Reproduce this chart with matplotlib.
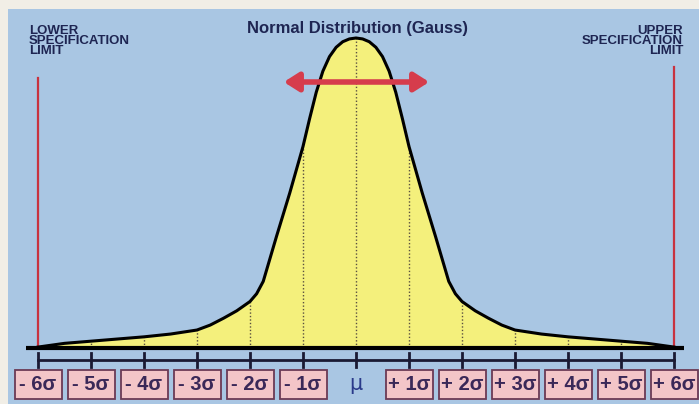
import matplotlib.pyplot as plt
from matplotlib.patches import Rectangle, FancyArrowPatch

# curve (x in sigma units, height relative to peak)
curve_x = [-6, -5.5, -5, -4.5, -4, -3.5, -3, -2.75, -2.5, -2.25, -2, -1.875, -1.75, -1.5, -1.25,
           -1, -0.875, -0.75, -0.625, -0.5, -0.375, -0.25, -0.125, 0,
           0.125, 0.25, 0.375, 0.5, 0.625, 0.75, 0.875, 1,
           1.25, 1.5, 1.75, 1.875, 2, 2.25, 2.5, 2.75, 3, 3.5, 4, 4.5, 5, 5.5, 6]
curve_y = [0.003, 0.015, 0.022, 0.029, 0.036, 0.045, 0.058, 0.074, 0.096, 0.12, 0.15, 0.175, 0.215, 0.36, 0.5,
           0.65, 0.74, 0.825, 0.893, 0.94, 0.97, 0.988, 0.997, 1.0,
           0.997, 0.988, 0.97, 0.94, 0.893, 0.825, 0.74, 0.65,
           0.5, 0.36, 0.215, 0.175, 0.15, 0.12, 0.096, 0.074, 0.058, 0.045, 0.036, 0.029, 0.022, 0.015, 0.003]
sigma_pos = [-6, -5, -4, -3, -2, -1, 0, 1, 2, 3, 4, 5, 6]
sigma_labels = ['- 6σ', '- 5σ', '- 4σ', '- 3σ', '- 2σ', '- 1σ', 'μ',
                '+ 1σ', '+ 2σ', '+ 3σ', '+ 4σ', '+ 5σ', '+ 6σ']
sigma_heights = [0.003, 0.022, 0.036, 0.058, 0.15, 0.65, 1.0, 0.65, 0.15, 0.058, 0.036, 0.022, 0.003]

W, H = 699, 404
PX = 53.0      # pixels per sigma
CX = 356.0     # pixel x of mu
BASE = 348.0   # pixel y of baseline
PEAK = 310.0   # pixel height of peak


def py(p):
    # pixel y (from top) -> data y
    return (BASE - p) / PEAK


def px(p):
    return (p - CX) / PX


plt.rcParams['font.family'] = ['Liberation Sans', 'DejaVu Sans']
navy = '#1e2552'
red = '#d63c4c'

fig = plt.figure(figsize=(W / 100, H / 100), dpi=100, facecolor='#f1eee6')

ax = fig.add_axes([0, 0, 1, 1])
ax.set_xlim(px(0), px(W))
ax.set_ylim(py(H), py(0))
ax.axis('off')

ax.add_patch(Rectangle((8 / W, 0), 1, (H - 9) / H, transform=ax.transAxes,
                       facecolor='#a9c6e3', edgecolor='none', zorder=0))

# curve
ax.fill_between(curve_x, 0, curve_y, color='#f4f07c', zorder=2)
ax.plot(curve_x, curve_y, color='black', lw=2.2, zorder=4, solid_joinstyle='round')

# dotted sigma lines
for s, h in zip(sigma_pos[1:-1], sigma_heights[1:-1]):
    ax.plot([s, s], [0, h], color='#5a5040', lw=1, ls=(0, (1, 1.5)), zorder=3)

# baseline
ax.plot([px(26), px(684)], [0, 0], color='black', lw=3, zorder=5, solid_capstyle='butt')

# spec limits
ax.plot([-6, -6], [0, py(78)], color='#c8323f', lw=1.6, zorder=3)
ax.plot([6, 6], [0, py(67)], color='#c8323f', lw=1.6, zorder=3)

# axis with ticks
ax.plot([-6, 6], [py(360), py(360)], color='#1a1a33', lw=2, zorder=5)
for s in sigma_pos:
    ax.plot([s, s], [py(353), py(367)], color='#1a1a33', lw=2, zorder=5)

# label boxes
bw = 47 / PX
for s, lab in zip(sigma_pos, sigma_labels):
    if lab == 'μ':
        ax.text(s, py(384), lab, ha='center', va='center', fontsize=15,
                color='#2a3a8a', family='DejaVu Sans', zorder=6)
        continue
    ax.add_patch(Rectangle((s - bw / 2, py(399)), bw, py(370) - py(399),
                           facecolor='#f3c5c8', edgecolor='#6b3a55', lw=1.3, zorder=5))
    ax.text(s, py(385), lab, ha='center', va='center', fontsize=14.5,
            fontweight='bold', color='#3a2858', zorder=6)

# arrow
arr = FancyArrowPatch((px(281), py(82)), (px(432), py(82)),
                      arrowstyle='<|-|>,head_length=0.55,head_width=0.35',
                      mutation_scale=16, color=red, lw=4, zorder=6)
ax.add_patch(arr)

# texts
ax.text(0.02, py(29), 'Normal Distribution (Gauss)', ha='center', va='center',
        fontsize=12, fontweight='bold', color=navy, zorder=6)
ax.text(px(29), py(25), 'LOWER\nSPECIFICATION\nLIMIT', ha='left', va='top',
        fontsize=9.5, fontweight='bold', color=navy, linespacing=0.75, zorder=6)
ax.text(px(683), py(25), 'UPPER\nSPECIFICATION\nLIMIT', ha='right', va='top',
        fontsize=9.5, fontweight='bold', color=navy, linespacing=0.75,
        multialignment='right', zorder=6)

plt.savefig('out.png', dpi=100, facecolor=fig.get_facecolor())
